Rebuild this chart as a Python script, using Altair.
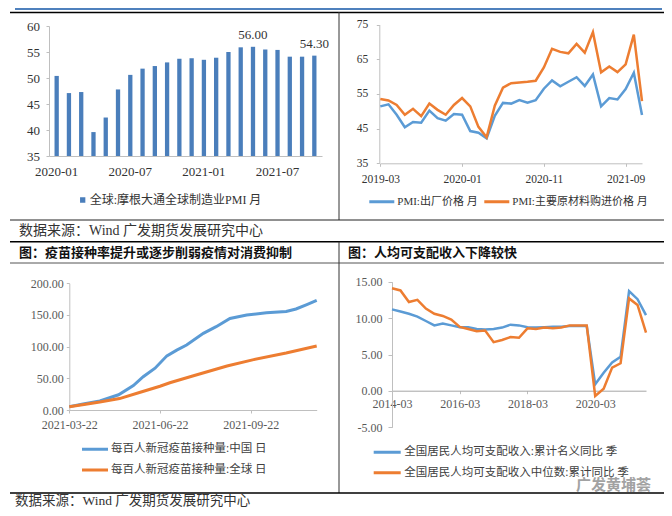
import altair as alt
import pandas as pd

# ---------------- layout helpers ----------------
W, H = 656, 500          # whole chart (autosize none, padding 0)
M = 8                    # page margin


def px(v):
    """page pixel -> chart pixel"""
    return v - M


SERIF = "Liberation Serif, Noto Sans CJK SC"
CJK = "Noto Sans CJK SC, Liberation Serif"
BAR = "#4A7EBB"
BLUE = "#5B9BD5"
ORANGE = "#ED7D31"
AXIS = "#BFBFBF"
DARK = "#333333"
GREY = "#595959"

# ---------------- texts ----------------
source_text = "数据来源：Wind 广发期货发展研究中心"
title_left = "图：疫苗接种率提升或逐步削弱疫情对消费抑制"
title_right = "图：人均可支配收入下降较快"
watermark = "广发黄埔荟"

# ---------------- panel 1 data ----------------
pmi_name = "全球:摩根大通全球制造业PMI 月"
pmi_months = pd.period_range("2020-01", "2021-10", freq="M").strftime("%Y-%m").tolist()
pmi_values = [50.4, 47.1, 47.3, 39.6, 42.4, 47.8, 50.6, 51.8, 52.3, 53.0, 53.7,
              53.8, 53.5, 53.9, 55.0, 55.9, 56.0, 55.5, 55.4, 54.1, 54.1, 54.3]
pmi_ticks = ["2020-01", "2020-07", "2021-01", "2021-07"]
pmi_yticks = [35, 40, 45, 50, 55, 60]
pmi_labelled = ["2021-05", "2021-10"]

# ---------------- panel 2 data ----------------
price_names = ["PMI:出厂价格 月", "PMI:主要原材料购进价格 月"]
price_months = pd.period_range("2019-03", "2021-11", freq="M").strftime("%Y-%m").tolist()
output_price = [51.4, 52.0, 49.0, 45.4, 46.9, 46.7, 50.2, 48.0, 47.3, 49.2, 49.0,
                44.3, 43.8, 42.2, 48.7, 52.4, 52.2, 53.2, 52.5, 53.2, 56.5, 58.9,
                57.2, 58.5, 59.8, 57.3, 60.6, 51.4, 53.8, 53.4, 56.4, 61.1, 48.9]
input_price = [53.5, 53.1, 51.8, 49.0, 50.7, 48.6, 52.2, 50.4, 49.0, 51.8, 53.8,
               51.4, 45.5, 42.5, 51.6, 56.8, 58.1, 58.3, 58.5, 58.8, 62.6, 68.0,
               67.1, 66.7, 69.4, 66.9, 72.8, 61.2, 62.9, 61.3, 63.5, 72.1, 52.9]
price_ticks = ["2019-03", "2020-01", "2020-11", "2021-09"]
price_yticks = [35, 45, 55, 65, 75]

# ---------------- panel 3 data ----------------
vac_names = ["每百人新冠疫苗接种量:中国 日", "每百人新冠疫苗接种量:全球 日"]
vac_cn_dates = ["2021-03-22", "2021-04-05", "2021-04-22", "2021-05-11", "2021-05-26",
                "2021-06-05", "2021-06-17", "2021-06-29", "2021-07-09", "2021-07-19",
                "2021-08-05", "2021-08-18", "2021-09-01", "2021-09-18", "2021-10-08",
                "2021-10-28", "2021-11-07", "2021-11-18", "2021-11-28"]
vac_cn = [5.3, 9.5, 14.3, 24.0, 38.5, 52.5, 66.0, 85.5, 94.5, 102.5, 121.0, 131.5,
          144.5, 150.0, 153.5, 155.5, 159.5, 166.5, 173.0]
vac_gl_dates = ["2021-03-22", "2021-04-06", "2021-04-22", "2021-05-12", "2021-06-02",
                "2021-06-22", "2021-07-02", "2021-07-26", "2021-08-29", "2021-09-25",
                "2021-10-28", "2021-11-28"]
vac_gl = [5.3, 8.8, 12.5, 18.0, 28.0, 37.5, 43.0, 54.0, 69.5, 79.5, 90.0, 101.0]
vac_start, vac_end = "2021-03-22", "2021-11-28"
vac_ticks = ["2021-03-22", "2021-06-22", "2021-09-22"]
vac_yticks = [0, 50, 100, 150, 200]

# ---------------- panel 4 data ----------------
inc_names = ["全国居民人均可支配收入:累计名义同比 季", "全国居民人均可支配收入中位数:累计同比 季"]
inc_quarters = pd.date_range("2014-03-01", "2021-09-01", freq="3MS").strftime("%Y-%m").tolist()
inc_nominal = [11.2, 10.9, 10.6, 10.2, 9.6, 9.0, 9.25, 9.0, 8.75, 8.75, 8.5, 8.45,
               8.5, 8.7, 9.1, 9.0, 8.75, 8.7, 8.75, 8.8, 8.8, 8.9, 8.9, 8.9,
               0.9, 2.5, 3.9, 4.7, 13.7, 12.6, 10.4]
inc_median = [14.1, 13.8, 12.2, 12.5, 11.3, 10.6, 10.3, 9.8, 8.8, 8.5, 8.2, 8.3,
              6.7, 7.0, 7.4, 7.3, 8.6, 8.5, 8.7, 8.6, 8.7, 9.0, 9.0, 9.0,
              -0.7, 0.3, 3.2, 3.8, 12.7, 11.8, 8.0]
inc_ticks = ["2014-03", "2016-03", "2018-03", "2020-03"]
inc_yticks = [-5, 0, 5, 10, 15]

# ---------------- decorations ----------------
anchor = pd.DataFrame({"k": [0]})


def hline(x1, x2, y, color, width):
    return alt.Chart(anchor).mark_rule(color=color, strokeWidth=width).encode(
        x=alt.value(px(x1)), x2=alt.value(px(x2)), y=alt.value(px(y)))


def vline(x, y1, y2, color, width):
    return alt.Chart(anchor).mark_rule(color=color, strokeWidth=width).encode(
        x=alt.value(px(x)), y=alt.value(px(y1)), y2=alt.value(px(y2)))


def note(text, x, y, size, color, weight="normal", opacity=1.0):
    return alt.Chart(anchor).mark_text(
        text=text, align="left", baseline="middle", fontSize=size, font=SERIF,
        fontWeight=weight, color=color, opacity=opacity
    ).encode(x=alt.value(px(x)), y=alt.value(px(y)))


decor = [
    hline(15, 662, 9, "#4F81BD", 2),
    hline(10, 668, 12.5, "#000000", 1.5),
    vline(339, 12, 220, "#333333", 1),
    hline(10, 667, 220, "#222222", 1),
    hline(10, 667, 241.7, "#000000", 1.5),
    hline(10, 667, 263, "#555555", 1),
    vline(339, 241.7, 493, "#333333", 1),
    hline(10, 667, 493, "#000000", 1.5),
    note(source_text, 19, 231, 14, DARK),
    note(title_left, 19, 252.5, 13, "#111111", "bold"),
    note(title_right, 348, 252.5, 13, "#111111", "bold"),
    note(source_text, 15, 500.5, 13.5, DARK),
    note(watermark, 576, 485, 15, "#8C8C8C", "bold", 0.8),
]


def xaxis(y_page, values, fs, color, pad, ticks=True, domain_color=AXIS, expr=None):
    kw = dict(orient="bottom", offset=px(y_page) - H, values=values, labelAngle=0,
              labelFontSize=fs, labelColor=color, labelPadding=pad, labelFont=SERIF,
              ticks=ticks, tickSize=3 if ticks else 0, tickColor=AXIS, domainColor=domain_color,
              title=None, grid=False, labelFlush=False, labelOverlap=False)
    if expr:
        kw["labelExpr"] = expr
    return alt.Axis(**kw)


def yaxis(x_page, values, fs, color, pad, fmt="d", tick=3):
    return alt.Axis(orient="left", offset=-px(x_page), values=values, format=fmt,
                    labelFontSize=fs, labelColor=color, labelPadding=pad, labelFont=SERIF,
                    tickSize=tick, tickColor=AXIS, domainColor=AXIS, title=None, grid=False,
                    labelFlush=False, labelOverlap=False,
                    labelExpr="replace(datum.label, '\u2212', '-')")


def legend(x, y, direction, fs, color, symbol, size, sw, offset, rowpad=0, colpad=0):
    return alt.Legend(orient="none", legendX=x, legendY=y, direction=direction, title=None,
                      labelFont=SERIF, labelFontSize=fs, labelColor=color, symbolType=symbol,
                      symbolSize=size, symbolStrokeWidth=sw, labelOffset=offset,
                      rowPadding=rowpad, columnPadding=colpad, padding=0, clipHeight=12,
                      labelLimit=400)


# ---------------- panel 1: bars ----------------
df1 = pd.DataFrame({"month": pmi_months, "value": pmi_values, "series": pmi_name})
x1 = alt.X("month:O",
           scale=alt.Scale(type="band", domain=pmi_months, range=[px(49), px(322)],
                           paddingInner=0.65, paddingOuter=0.45),
           axis=xaxis(156, pmi_ticks, 13, DARK, 9, ticks=False))
y1 = alt.Y("value:Q",
           scale=alt.Scale(domain=[35, 60], range=[px(156), px(26)], zero=False, nice=False),
           axis=yaxis(49, pmi_yticks, 13, DARK, 6.5))
bars = alt.Chart(df1).mark_bar().encode(
    x=x1, y=y1, y2=alt.datum(35),
    color=alt.Color("series:N", scale=alt.Scale(domain=[pmi_name], range=[BAR]),
                    legend=legend(px(82.7) - 6, px(200) - 6, "vertical", 12, DARK,
                                  "square", 28, 0, 1)))
bar_labels = alt.Chart(df1).transform_filter(
    alt.FieldOneOfPredicate(field="month", oneOf=pmi_labelled)
).mark_text(dy=-12, fontSize=13, font=SERIF, color=DARK, baseline="middle").encode(
    x=x1, y=y1, text=alt.Text("value:Q", format=".2f"))
p1 = alt.layer(bars, bar_labels)

# ---------------- panel 2: PMI price lines ----------------
df2 = pd.DataFrame({
    "month": price_months * 2,
    "value": output_price + input_price,
    "series": [price_names[0]] * len(price_months) + [price_names[1]] * len(price_months),
})
p2 = alt.Chart(df2).mark_line(strokeWidth=2.5).encode(
    x=alt.X("month:O",
            scale=alt.Scale(type="point", domain=price_months, range=[px(380.3), px(642)],
                            padding=0),
            axis=xaxis(163.3, price_ticks, 11.5, DARK, 7.5)),
    y=alt.Y("value:Q",
            scale=alt.Scale(domain=[35, 75], range=[px(163.3), px(24.5)], zero=False, nice=False),
            axis=yaxis(379.3, price_yticks, 11.5, DARK, 8.5)),
    color=alt.Color("series:N", scale=alt.Scale(domain=price_names, range=[BLUE, ORANGE]),
                    legend=legend(px(381.8) - 14, px(201.7) - 6, "horizontal", 11, DARK,
                                  "stroke", 625, 3, 1.5, colpad=5)),
)

# ---------------- panel 3: vaccine lines ----------------
t0 = pd.Timestamp(vac_start)


def days(ds):
    return [(pd.Timestamp(d) - t0).days for d in ds]


df3 = pd.DataFrame({
    "day": days(vac_cn_dates) + days(vac_gl_dates),
    "value": vac_cn + vac_gl,
    "series": [vac_names[0]] * len(vac_cn) + [vac_names[1]] * len(vac_gl),
})
vac_tick_days = days(vac_ticks)
vac_expr = " : ".join(f"datum.value == {d} ? '{s}'" for d, s in zip(vac_tick_days, vac_ticks)) + " : ''"
p3 = alt.Chart(df3).mark_line(strokeWidth=3).encode(
    x=alt.X("day:Q",
            scale=alt.Scale(domain=[0, days([vac_end])[0]], range=[px(69.3), px(316.7)],
                            zero=False, nice=False),
            axis=xaxis(410, vac_tick_days, 12, GREY, 6, expr=vac_expr)),
    y=alt.Y("value:Q",
            scale=alt.Scale(domain=[0, 200], range=[px(410), px(283.3)], zero=False, nice=False),
            axis=yaxis(69.3, vac_yticks, 12, GREY, 3, fmt=".2f")),
    color=alt.Color("series:N", scale=alt.Scale(domain=vac_names, range=[BLUE, ORANGE]),
                    legend=legend(px(95) - 14.5, px(449.3) - 6, "vertical", 11.5, "#404040",
                                  "stroke", 676, 3, 1.5, rowpad=8.7)),
)

# ---------------- panel 4: income lines ----------------
df4 = pd.DataFrame({
    "quarter": inc_quarters * 2,
    "value": inc_nominal + inc_median,
    "series": [inc_names[0]] * len(inc_quarters) + [inc_names[1]] * len(inc_quarters),
})
p4 = alt.Chart(df4).mark_line(strokeWidth=2.5).encode(
    x=alt.X("quarter:O",
            scale=alt.Scale(type="point", domain=inc_quarters, range=[px(392), px(646)],
                            padding=0),
            axis=xaxis(390.7, inc_ticks, 12, GREY, 4.5, domain_color="#A6A6A6")),
    y=alt.Y("value:Q",
            scale=alt.Scale(domain=[-5, 15], range=[px(427.3), px(281.7)], zero=False, nice=False),
            axis=yaxis(392, inc_yticks, 12, GREY, 6, fmt=".2f", tick=4)),
    color=alt.Color("series:N", scale=alt.Scale(domain=inc_names, range=[BLUE, ORANGE]),
                    legend=legend(px(387.2) - 15, px(452.3) - 6, "vertical", 11.5, "#404040",
                                  "stroke", 729, 3, 2, rowpad=8.4)),
)

chart = alt.layer(*decor, p1, p2, p3, p4).resolve_scale(
    x="independent", y="independent", color="independent"
).properties(
    width=W, height=H, padding=0, autosize=alt.AutoSizeParams(type="none"),
    background="white"
).configure_view(stroke=None).configure_axis(grid=False)

chart.save("out.html", embed_options={"renderer": "svg", "actions": False})
